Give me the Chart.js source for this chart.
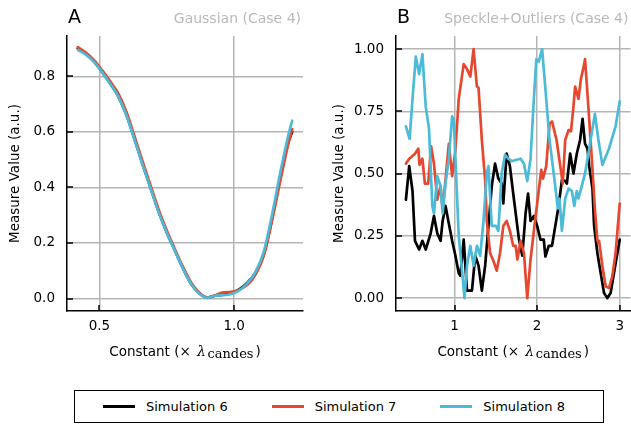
<!DOCTYPE html>
<html>
<head>
<meta charset="utf-8">
<script src="https://cdn.jsdelivr.net/npm/chart.js@4"></script>
<style>
  html, body { margin: 0; padding: 0; background: #fff; }
  body { width: 631px; height: 426px; position: relative; overflow: hidden; font-family: "DejaVu Sans", sans-serif; }
  canvas { position: absolute; top: 0; }
  #chartA { left: 0; }
  #chartB { left: 320px; }
  #legend {
    position: absolute; left: 74px; top: 390px; width: 530px; height: 33px;
    border: 1.5px solid #000; display: flex; align-items: center; padding-left: 28px; box-sizing: border-box;
    font-size: 13px; color: #000; white-space: nowrap;
  }
  #legend .item { display: flex; align-items: center; margin-right: 44px; flex-shrink: 0; }
  #legend .item:last-child { margin-right: 0; }
  #legend .swatch { width: 32px; height: 3px; margin-right: 11px; }
</style>
</head>
<body>
<canvas id="chartA" width="315" height="380"></canvas>
<canvas id="chartB" width="311" height="380"></canvas>
<div id="legend"></div>
<script>
// series names and colours
const seriesNames = ['Simulation 6', 'Simulation 7', 'Simulation 8'];
const seriesColors = ['#000000', '#e5482f', '#4bbbd8'];

// Panel A: Gaussian (Case 4)
const xA = [0.42, 0.45, 0.48, 0.51, 0.54, 0.57, 0.60, 0.63, 0.66, 0.69, 0.72, 0.75, 0.78, 0.81,
            0.84, 0.87, 0.90, 0.93, 0.96, 0.99, 1.02, 1.05, 1.08, 1.11, 1.14, 1.17, 1.20, 1.215];
const sim6A = [0.900, 0.880, 0.853, 0.816, 0.774, 0.728, 0.662, 0.575, 0.484, 0.398, 0.312, 0.238, 0.173, 0.109,
               0.053, 0.019, 0.003, 0.010, 0.014, 0.020, 0.034, 0.058, 0.095, 0.160, 0.285, 0.430, 0.560, 0.600];
const sim7A = [0.905, 0.885, 0.858, 0.822, 0.782, 0.738, 0.672, 0.585, 0.494, 0.406, 0.320, 0.245, 0.178, 0.114,
               0.058, 0.022, 0.004, 0.012, 0.022, 0.024, 0.032, 0.050, 0.088, 0.155, 0.280, 0.420, 0.555, 0.610];
const sim8A = [0.895, 0.878, 0.852, 0.815, 0.773, 0.727, 0.660, 0.573, 0.482, 0.396, 0.310, 0.237, 0.172, 0.108,
               0.052, 0.018, 0.002, 0.010, 0.012, 0.016, 0.030, 0.056, 0.098, 0.170, 0.300, 0.450, 0.585, 0.640];
const xTicksA = [0.5, 1.0];
const yTicksA = [0.0, 0.2, 0.4, 0.6, 0.8];

// Panel B: Speckle+Outliers (Case 4)
const sim6Bx = [0.41, 0.45, 0.49, 0.52, 0.57, 0.61, 0.65, 0.71, 0.75, 0.79, 0.83, 0.855, 0.89, 0.93, 0.97,
                1.01, 1.05, 1.07, 1.11, 1.15, 1.21, 1.25, 1.29, 1.33, 1.37, 1.41, 1.45, 1.49, 1.53, 1.57,
                1.59, 1.63, 1.67, 1.71, 1.74, 1.78, 1.82, 1.86, 1.89, 1.92, 1.96, 2.00, 2.04, 2.08, 2.10,
                2.14, 2.18, 2.22, 2.26, 2.30, 2.34, 2.36, 2.40, 2.44, 2.48, 2.52, 2.55, 2.58, 2.61, 2.63,
                2.67, 2.69, 2.73, 2.77, 2.81, 2.85, 2.89, 2.93, 3.00];
const sim6By = [0.395, 0.53, 0.43, 0.23, 0.195, 0.23, 0.195, 0.26, 0.33, 0.26, 0.23, 0.31, 0.37, 0.30, 0.23,
                0.17, 0.10, 0.09, 0.235, 0.03, 0.03, 0.17, 0.13, 0.03, 0.13, 0.29, 0.45, 0.54, 0.48, 0.46,
                0.38, 0.58, 0.53, 0.42, 0.34, 0.235, 0.17, 0.34, 0.42, 0.31, 0.33, 0.29, 0.235, 0.235, 0.167,
                0.21, 0.21, 0.29, 0.37, 0.475, 0.47, 0.46, 0.58, 0.50, 0.58, 0.635, 0.72, 0.62, 0.60, 0.53,
                0.44, 0.29, 0.18, 0.10, 0.02, 0.0, 0.02, 0.10, 0.235];
const sim7Bx = [0.41, 0.45, 0.52, 0.56, 0.575, 0.61, 0.64, 0.68, 0.715, 0.75, 0.79, 0.83, 0.855, 0.89, 0.93,
                0.97, 1.01, 1.05, 1.11, 1.15, 1.19, 1.23, 1.27, 1.29, 1.33, 1.37, 1.39, 1.43, 1.47, 1.51,
                1.55, 1.59, 1.63, 1.67, 1.71, 1.74, 1.76, 1.80, 1.84, 1.88, 1.92, 1.96, 2.00, 2.05, 2.07,
                2.11, 2.15, 2.18, 2.235, 2.28, 2.31, 2.34, 2.38, 2.41, 2.44, 2.46, 2.50, 2.53, 2.57, 2.58,
                2.62, 2.66, 2.70, 2.73, 2.75, 2.79, 2.83, 2.87, 2.91, 2.95, 3.00];
const sim7By = [0.54, 0.56, 0.58, 0.60, 0.535, 0.56, 0.46, 0.46, 0.61, 0.54, 0.395, 0.45, 0.355, 0.475, 0.62,
                0.49, 0.595, 0.80, 0.94, 0.92, 0.89, 1.00, 0.85, 0.845, 0.635, 0.475, 0.31, 0.18, 0.15, 0.11,
                0.18, 0.29, 0.31, 0.27, 0.21, 0.21, 0.155, 0.23, 0.18, 0.0, 0.155, 0.27, 0.38, 0.515, 0.48,
                0.53, 0.70, 0.71, 0.635, 0.53, 0.46, 0.635, 0.675, 0.67, 0.77, 0.85, 0.80, 0.88, 0.94, 0.96,
                0.77, 0.57, 0.355, 0.23, 0.23, 0.13, 0.047, 0.04, 0.087, 0.18, 0.38];
const sim8Bx = [0.41, 0.455, 0.49, 0.53, 0.57, 0.61, 0.65, 0.69, 0.73, 0.75, 0.79, 0.83, 0.855, 0.89, 0.93,
                0.97, 0.99, 1.01, 1.05, 1.09, 1.12, 1.15, 1.19, 1.23, 1.27, 1.31, 1.35, 1.39, 1.41, 1.45,
                1.50, 1.53, 1.57, 1.61, 1.65, 1.69, 1.74, 1.80, 1.84, 1.88, 1.92, 1.96, 1.99, 2.02, 2.06,
                2.10, 2.15, 2.21, 2.25, 2.27, 2.30, 2.34, 2.38, 2.42, 2.45, 2.48, 2.50, 2.54, 2.58, 2.64,
                2.70, 2.74, 2.79, 2.87, 2.95, 3.00];
const sim8By = [0.69, 0.64, 0.80, 0.97, 0.90, 0.98, 0.77, 0.68, 0.37, 0.34, 0.49, 0.45, 0.34, 0.46, 0.56,
                0.73, 0.72, 0.56, 0.25, 0.11, 0.0, 0.13, 0.21, 0.13, 0.21, 0.17, 0.31, 0.50, 0.53, 0.29,
                0.29, 0.27, 0.50, 0.575, 0.56, 0.55, 0.555, 0.56, 0.54, 0.47, 0.56, 0.80, 0.96, 0.95, 1.00,
                0.84, 0.635, 0.475, 0.36, 0.40, 0.27, 0.40, 0.44, 0.43, 0.37, 0.43, 0.40, 0.45, 0.50, 0.62,
                0.74, 0.64, 0.535, 0.60, 0.69, 0.79];
const xTicksB = [1, 2, 3];
const yTicksB = [0.0, 0.25, 0.5, 0.75, 1.0];

const FONT = '"DejaVu Sans", sans-serif';

const toPoints = (xs, ys) => xs.map((x, i) => ({ x, y: ys[i] }));

// panel letter, grey subtitle, inward tick marks and the x label with subscript
const panelDecor = {
  id: 'panelDecor',
  afterDraw(chart, args, opts) {
    const { ctx, chartArea: a } = chart;
    const sx = chart.scales.x, sy = chart.scales.y;
    ctx.save();
    ctx.strokeStyle = '#000';
    ctx.lineWidth = 1.5;
    sx.ticks.forEach(t => {
      const px = Math.round(sx.getPixelForValue(t.value));
      ctx.beginPath(); ctx.moveTo(px, a.bottom); ctx.lineTo(px, a.bottom - 6); ctx.stroke();
    });
    sy.ticks.forEach(t => {
      const py = Math.round(sy.getPixelForValue(t.value));
      ctx.beginPath(); ctx.moveTo(a.left, py); ctx.lineTo(a.left + 6, py); ctx.stroke();
    });

    ctx.textBaseline = 'alphabetic';
    ctx.fillStyle = '#000';
    ctx.textAlign = 'left';
    ctx.font = '19px ' + FONT;
    ctx.fillText(opts.letter, a.left + 1, 23);
    ctx.fillStyle = '#b9b9b9';
    ctx.textAlign = 'right';
    ctx.font = '14px ' + FONT;
    ctx.fillText(opts.subtitle, a.right - 2, 23);

    // Constant (× λ_candes)
    const parts = [
      { t: 'Constant (\u00d7 ', f: '13.5px ' + FONT, dy: 0, gap: 2 },
      { t: '\u03bb', f: 'italic 14px "DejaVu Serif", serif', dy: 0, gap: 1.5 },
      { t: 'candes', f: '13px "DejaVu Serif", serif', dy: 2, gap: 2 },
      { t: ')', f: '13.5px ' + FONT, dy: 0, gap: 0 }
    ];
    let total = 0;
    parts.forEach(p => { ctx.font = p.f; p.w = ctx.measureText(p.t).width + p.gap; total += p.w; });
    let cx = (a.left + a.right) / 2 - total / 2;
    ctx.fillStyle = '#000';
    ctx.textAlign = 'left';
    parts.forEach(p => { ctx.font = p.f; ctx.fillText(p.t, cx, 356 + p.dy); cx += p.w; });
    ctx.restore();
  }
};

function makeChart(id, datasets, cfg) {
  return new Chart(document.getElementById(id), {
    type: 'line',
    data: { datasets },
    options: {
      responsive: false,
      animation: false,
      devicePixelRatio: 1,
      layout: { padding: { top: 36, right: cfg.padRight, left: 0, bottom: 0 } },
      elements: { point: { radius: 0 } },
      plugins: {
        legend: { display: false },
        tooltip: { enabled: false },
        panelDecor: { letter: cfg.letter, subtitle: cfg.subtitle }
      },
      scales: {
        x: {
          type: 'linear',
          min: cfg.xMin, max: cfg.xMax,
          afterBuildTicks: s => { s.ticks = cfg.xTicks.map(v => ({ value: v })); },
          afterFit: s => { s.height = 69; },
          grid: { color: '#b5b5b5', lineWidth: 1.5, drawTicks: false },
          border: { color: '#000', width: 1.5 },
          ticks: { color: '#000', font: { family: FONT, size: 13.5 }, padding: 7, maxRotation: 0,
                   callback: cfg.xFmt }
        },
        y: {
          min: cfg.yMin, max: cfg.yMax,
          afterBuildTicks: s => { s.ticks = cfg.yTicks.map(v => ({ value: v })); },
          afterFit: s => { s.width = cfg.yWidth; },
          grid: { color: '#b5b5b5', lineWidth: 1.5, drawTicks: false },
          border: { color: '#000', width: 1.5 },
          ticks: { color: '#000', font: { family: FONT, size: 13.5 }, padding: 12,
                   callback: cfg.yFmt },
          title: { display: true, text: 'Measure Value (a.u.)', color: '#000',
                   font: { family: FONT, size: 13.5 }, padding: { top: cfg.titlePad, bottom: 0 } }
        }
      }
    },
    plugins: [panelDecor]
  });
}

function buildSets(pairs, smooth) {
  return pairs.map((pts, i) => ({
    label: seriesNames[i],
    data: pts,
    borderColor: seriesColors[i],
    borderWidth: 2.7,
    fill: false,
    tension: 0,
    cubicInterpolationMode: smooth ? 'monotone' : 'default',
    borderJoinStyle: 'round',
    borderCapStyle: 'round',
    order: 2 - i
  }));
}

makeChart('chartA', buildSets([
  toPoints(xA, sim6A), toPoints(xA, sim7A), toPoints(xA, sim8A)
], true), {
  letter: 'A', subtitle: 'Gaussian (Case 4)', padRight: 12, yWidth: 67, titlePad: 7,
  xMin: 0.38, xMax: 1.255, yMin: -0.045, yMax: 0.945,
  xTicks: xTicksA, yTicks: yTicksA,
  xFmt: v => v.toFixed(1), yFmt: v => v.toFixed(1)
});

makeChart('chartB', buildSets([
  toPoints(sim6Bx, sim6By), toPoints(sim7Bx, sim7By), toPoints(sim8Bx, sim8By)
], false), {
  letter: 'B', subtitle: 'Speckle+Outliers (Case 4)', padRight: 0, yWidth: 76, titlePad: 11,
  xMin: 0.29, xMax: 3.13, yMin: -0.052, yMax: 1.053,
  xTicks: xTicksB, yTicks: yTicksB,
  xFmt: v => String(v), yFmt: v => v.toFixed(2)
});

// legend box below both panels
const legendEl = document.getElementById('legend');
seriesNames.forEach((name, i) => {
  const item = document.createElement('div');
  item.className = 'item';
  item.innerHTML = `<span class="swatch" style="background:${seriesColors[i]}"></span><span>${name}</span>`;
  legendEl.appendChild(item);
});
</script>
</body>
</html>
